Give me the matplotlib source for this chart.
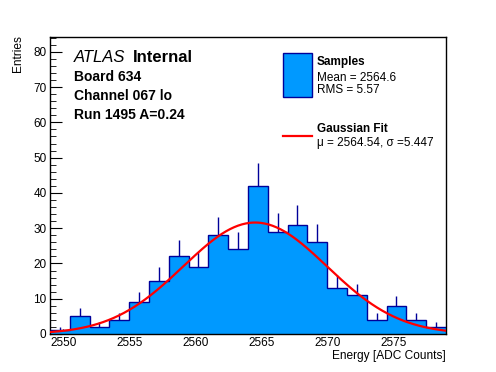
import numpy as np
import matplotlib
matplotlib.use('Agg')
import matplotlib.pyplot as plt
from matplotlib.patches import Rectangle
from matplotlib.lines import Line2D
from matplotlib.ticker import MultipleLocator

plt.rcParams['font.family'] = ['Liberation Sans', 'DejaVu Sans']

# histogram: 20 bins of 1.5 ADC counts starting at 2549
bin_lo = 2549.0
bin_w = 1.5
counts = np.array([1, 5, 2, 4, 9, 15, 22, 19, 28, 24,
                   42, 29, 31, 26, 13, 11, 4, 8, 4, 2])

# gaussian fit parameters
fit_mu = 2564.54
fit_sigma = 5.447
fit_amp = 31.6

fill_col = '#0099ff'
line_col = '#000099'

edges = bin_lo + bin_w*np.arange(len(counts)+1)
centers = 0.5*(edges[:-1]+edges[1:])
errs = np.sqrt(counts)

fig = plt.figure(figsize=(4.96,3.72), dpi=100)
ax = fig.add_axes([50/496, 38/372, 396/496, 297/372])

ax.vlines(centers, counts-errs, counts+errs, color=line_col, lw=1, zorder=1)
ax.stairs(counts, edges, fill=True, facecolor=fill_col, edgecolor='none', zorder=2)
ax.stairs(counts, edges, color=line_col, lw=1, baseline=None, zorder=3)

xf = np.linspace(edges[0], edges[-1], 300)
yf = fit_amp*np.exp(-0.5*((xf-fit_mu)/fit_sigma)**2)
ax.plot(xf, yf, color='red', lw=1.6, zorder=4)

ax.set_xlim(edges[0], edges[-1])
ax.set_ylim(0, 84.2)
ax.xaxis.set_major_locator(MultipleLocator(5))
ax.xaxis.set_minor_locator(MultipleLocator(1))
ax.yaxis.set_major_locator(MultipleLocator(10))
ax.yaxis.set_minor_locator(MultipleLocator(2))
ax.tick_params(axis='both', which='both', direction='in', top=False, right=False,
               labelsize=8.5, colors='black')
ax.tick_params(axis='y', which='major', length=8.6, pad=2.5)
ax.tick_params(axis='y', which='minor', length=4.3)
ax.tick_params(axis='x', which='major', length=3.6, pad=2)
ax.tick_params(axis='x', which='minor', length=2.5)
for s in ax.spines.values():
    s.set_linewidth(1)

# axis titles (ROOT style, aligned to the axis ends)
fig.text(446/496, 1-355.7/372, 'Energy [ADC Counts]', ha='right', va='center', fontsize=8.6)
fig.text(18/496, 1-35/372, 'Entries', rotation=90, ha='center', va='top', fontsize=8.6)

# labels top left
fig.text(74/496, 1-57.3/372, 'ATLAS', style='italic', fontsize=12, va='center')
fig.text(133.3/496, 1-57.3/372, 'Internal', weight='bold', fontsize=12, va='center')
fig.text(74/496, 1-76.7/372, 'Board 634', weight='bold', fontsize=10, va='center')
fig.text(74/496, 1-96/372, 'Channel 067 lo', weight='bold', fontsize=10, va='center')
fig.text(74/496, 1-115/372, 'Run 1495 A=0.24', weight='bold', fontsize=10, va='center')

# legend
fig.add_artist(Rectangle((283.3/496, 1-96.7/372), 28.4/496, 43.4/372,
                         transform=fig.transFigure, facecolor=fill_col,
                         edgecolor=line_col, lw=1))
fig.add_artist(Line2D([283/496, 312/496], [1-136/372, 1-136/372],
                      transform=fig.transFigure, color='red', lw=1.6))
lx = 317/496
fig.text(lx, 1-61.7/372, 'Samples', weight='bold', fontsize=8.5, va='center')
fig.text(lx, 1-77.7/372, 'Mean = 2564.6', fontsize=8.5, va='center')
fig.text(lx, 1-90/372, 'RMS = 5.57', fontsize=8.5, va='center')
fig.text(lx, 1-129/372, 'Gaussian Fit', weight='bold', fontsize=8.5, va='center')
fig.text(lx, 1-143/372, '\u03bc = 2564.54, \u03c3 =5.447', fontsize=8.5, va='center')

fig.savefig('out.png', dpi=100)
